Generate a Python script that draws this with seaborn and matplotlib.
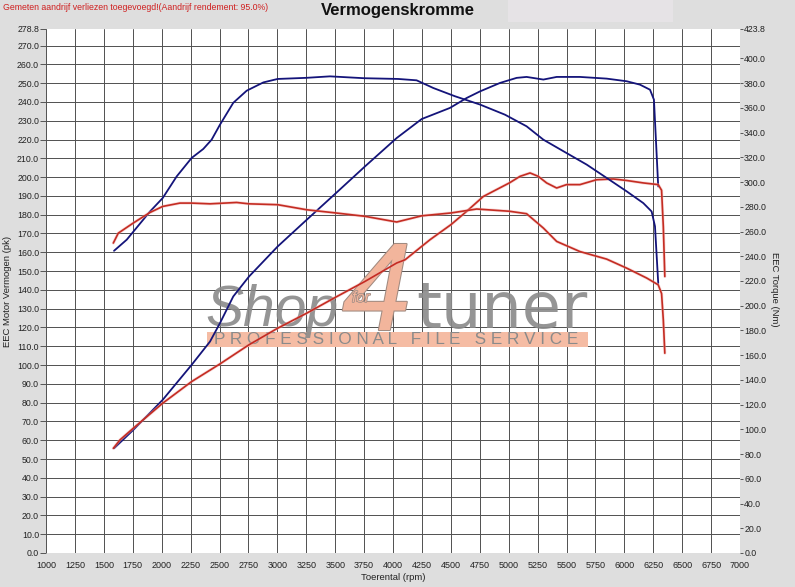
import matplotlib
matplotlib.use("Agg")
import matplotlib.pyplot as plt
import matplotlib.patheffects as pe
from matplotlib.patches import Rectangle
import seaborn as sns

# Curve data read from the dyno sheet (rpm, pk / Nm)
blue_power_rpm = [1588, 1755, 2009, 2259, 2418, 2504, 2619, 2755, 3003, 3254, 3507, 3758,
                  4032, 4248, 4492, 4637, 4752, 4925, 5069, 5155, 5300, 5415, 5616, 5847,
                  6020, 6135, 6222, 6256, 6293]
blue_power_pk = [55.7, 65.5, 81.5, 100.1, 112.5, 122.3, 136.5, 147.1, 163.1, 177.3, 191.5, 205.7,
                 220.8, 230.9, 236.8, 242.1, 245.6, 250.1, 252.8, 253.3, 251.9, 253.3, 253.3, 252.4,
                 251.0, 249.2, 246.5, 241.2, 195.0]

blue_torque_rpm = [1588, 1698, 1899, 2009, 2130, 2259, 2360, 2432, 2504, 2619, 2735, 2879,
                   3003, 3250, 3455, 3750, 4045, 4204, 4348, 4536, 4752, 4968, 5155, 5300,
                   5500, 5675, 5848, 6020, 6164, 6236, 6265, 6293]
blue_torque_nm = [244.4, 253.4, 276.2, 287.1, 304.6, 319.5, 326.8, 334.3, 346.4, 364.1, 373.9, 380.6,
                  383.4, 384.3, 385.5, 384.0, 383.4, 382.3, 376.1, 369.4, 362.7, 354.5, 345.1, 334.3,
                  323.5, 314.1, 303.3, 292.5, 283.0, 276.2, 264.2, 218.3]

red_power_rpm = [1582, 1640, 1755, 2009, 2259, 2504, 2755, 3003, 3254, 3507, 3758, 4032,
                 4104, 4320, 4501, 4637, 4781, 5006, 5098, 5185, 5256, 5328, 5415, 5500,
                 5616, 5760, 5905, 6020, 6164, 6293, 6322, 6337, 6350]
red_power_pk = [55.7, 60.2, 66.4, 79.7, 91.2, 100.6, 110.8, 119.6, 127.6, 136.2, 144.5, 154.3,
                156.0, 166.7, 174.7, 181.8, 189.7, 196.9, 200.4, 202.2, 200.4, 196.9, 194.2, 196.0,
                196.0, 198.6, 199.0, 198.2, 196.9, 196.0, 193.0, 173.7, 147.1]

red_torque_rpm = [1582, 1625, 1755, 1899, 2009, 2158, 2259, 2418, 2648, 2755, 3003, 3254,
                  3507, 3758, 4032, 4248, 4501, 4723, 5006, 5155, 5300, 5415, 5616, 5847,
                  6020, 6193, 6293, 6322, 6337, 6350]
red_torque_nm = [250.7, 258.7, 266.9, 275.4, 280.3, 283.0, 283.0, 282.4, 283.5, 282.4, 281.7, 277.6,
                 275.0, 272.3, 267.7, 272.7, 275.0, 278.2, 276.4, 274.4, 262.8, 252.0, 243.8, 237.7,
                 230.4, 222.4, 216.9, 209.8, 188.5, 161.6]

# Axis ticks
rpm_ticks = list(range(1000, 7001, 250))
pk_ticks = [float(v) for v in range(0, 271, 10)] + [278.8]
nm_ticks = [float(v) for v in range(0, 401, 20)] + [423.8]

BLUE = "#14147a"
RED = "#c42c22"

sns.set_style("white")
plt.rcParams["font.family"] = ["Liberation Sans", "DejaVu Sans"]

W, H = 795, 587
fig = plt.figure(figsize=(W / 100, H / 100), dpi=100, facecolor="#dedede")
ax = fig.add_axes([46 / W, 1 - 553 / H, 694 / W, 524 / H])
ax.set_facecolor("white")
ax2 = ax.twinx()

# grid + ticks
ax.set_xlim(1000, 7000)
ax.set_ylim(0, 278.8)
ax.set_xticks(rpm_ticks)
ax.set_yticks(pk_ticks)
ax.set_yticklabels([f"{v:.1f}" for v in pk_ticks])
ax.set_axisbelow(True)
ax.grid(True, color="#505050", linewidth=0.7)
ax.yaxis.get_gridlines()[-1].set_visible(False)
ax.tick_params(axis="y", length=4, width=0.7, color="#555555", labelsize=6.3,
               labelcolor="#222222", pad=1)
ax.tick_params(axis="x", length=3, width=0.7, color="#555555", labelsize=6.5,
               labelcolor="#222222", pad=2.5)

ax2.set_ylim(0, 423.8)
ax2.set_yticks(nm_ticks)
ax2.set_yticklabels([f"{v:.1f}" for v in nm_ticks])
ax2.grid(False)
ax2.tick_params(axis="y", length=2.5, width=0.7, color="#555555", labelsize=6.3,
                labelcolor="#222222", pad=0.5)

for a in (ax, ax2):
    for s in a.spines.values():
        s.set_visible(False)

# watermark logo, behind the curves
band = Rectangle((207 / W, 1 - 347 / H), 381 / W, 15 / H, transform=fig.transFigure,
                 facecolor="#f5bca4", edgecolor="none", zorder=1.2, clip_on=False)
ax.add_patch(band)
ax.text(396 / W, 1 - 340 / H, "P R O F E S S I O N A L   F I L E   S E R V I C E",
        transform=fig.transFigure, ha="center", va="center", fontsize=12.3,
        color="#8a8a8a", zorder=1.3)
ax.text(205 / W, 1 - 326 / H, "Shop", transform=fig.transFigure, ha="left", va="baseline",
        fontsize=41, style="italic", color="#8a8a8a", alpha=0.9, zorder=1.3)
ax.text(342 / W, 1 - 330 / H, "4", transform=fig.transFigure, ha="left", va="baseline",
        fontsize=90, style="italic", color="#f2b59c", zorder=1.3,
        path_effects=[pe.withStroke(linewidth=1.5, foreground="#a08a80")])
ax.text(352 / W, 1 - 302 / H, "for", transform=fig.transFigure, ha="left", va="baseline",
        fontsize=11, style="italic", color="#f2b59c", zorder=1.35,
        path_effects=[pe.withStroke(linewidth=1.0, foreground="#9a8a84")])
ax.text(416 / W, 1 - 328 / H, "tuner", transform=fig.transFigure, ha="left", va="baseline",
        fontsize=46, family="DejaVu Sans", color="#8a8a8a", alpha=0.9, zorder=1.3)

# curves
halo = [pe.Stroke(linewidth=2.2, foreground="#f0a8a8", alpha=0.45), pe.Normal()]
sns.lineplot(x=blue_power_rpm, y=blue_power_pk, ax=ax, color=BLUE, linewidth=1.3,
             sort=False, estimator=None, zorder=3)
sns.lineplot(x=red_power_rpm, y=red_power_pk, ax=ax, color=RED, linewidth=1.2,
             sort=False, estimator=None, zorder=3, path_effects=halo)
sns.lineplot(x=blue_torque_rpm, y=blue_torque_nm, ax=ax2, color=BLUE, linewidth=1.3,
             sort=False, estimator=None, zorder=3)
sns.lineplot(x=red_torque_rpm, y=red_torque_nm, ax=ax2, color=RED, linewidth=1.2,
             sort=False, estimator=None, zorder=3, path_effects=halo)

ax.set_xlim(1000, 7000)
ax.set_ylim(0, 278.8)
ax2.set_ylim(0, 423.8)
ax.set_xlabel("")
ax.set_ylabel("")
ax2.set_ylabel("")

# titles and labels
fig.patches.append(Rectangle((508 / W, 1 - 22 / H), 165 / W, 22 / H, transform=fig.transFigure,
                             facecolor="#e6e3e6", edgecolor="none", zorder=0))
fig.text(0.5, 1 - 11 / H, "Vermogenskromme", ha="center", va="center",
         fontsize=12, fontweight="bold", color="#111111")
fig.text(3 / W, 1 - 7 / H, "Gemeten aandrijf verliezen toegevoegd!(Aandrijf rendement: 95.0%)",
         ha="left", va="center", fontsize=6.3, color="#d02020")
fig.text(393 / W, 1 - 578 / H, "Toerental (rpm)", ha="center", va="center",
         fontsize=6.8, color="#222222")
fig.text(8 / W, 1 - 291 / H, "EEC Motor Vermogen (pk)", ha="center", va="center",
         rotation=90, fontsize=6.8, color="#222222")
fig.text(775 / W, 1 - 289 / H, "EEC Torque (Nm)", ha="center", va="center",
         rotation=-90, fontsize=6.8, color="#222222")

fig.savefig("out.png", dpi=100, facecolor=fig.get_facecolor())
